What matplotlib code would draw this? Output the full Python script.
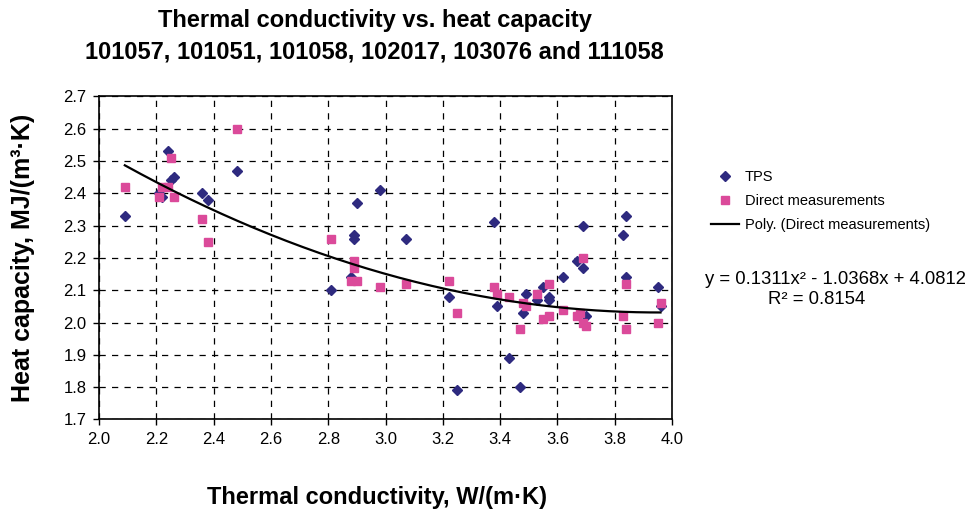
import numpy as np
import matplotlib
matplotlib.use("Agg")
import matplotlib.pyplot as plt
from matplotlib.ticker import FormatStrFormatter

plt.rcParams['font.family'] = ['Liberation Sans', 'DejaVu Sans']

# TPS measurements (thermal conductivity, heat capacity)
tps_k = [2.09, 2.24, 2.21, 2.22, 2.25, 2.26, 2.36, 2.38, 2.48, 2.81,
         2.88, 2.89, 2.89, 2.90, 2.98, 3.07, 3.22, 3.25, 3.38, 3.39,
         3.43, 3.47, 3.48, 3.49, 3.53, 3.55, 3.57, 3.57, 3.62, 3.67,
         3.69, 3.69, 3.70, 3.83, 3.84, 3.84, 3.95, 3.96]
tps_c = [2.33, 2.53, 2.40, 2.39, 2.44, 2.45, 2.40, 2.38, 2.47, 2.10,
         2.14, 2.27, 2.26, 2.37, 2.41, 2.26, 2.08, 1.79, 2.31, 2.05,
         1.89, 1.80, 2.03, 2.09, 2.07, 2.11, 2.08, 2.07, 2.14, 2.19,
         2.17, 2.30, 2.02, 2.27, 2.33, 2.14, 2.11, 2.05]

# direct measurements
dir_k = [2.09, 2.21, 2.22, 2.24, 2.25, 2.26, 2.36, 2.38, 2.48, 2.81,
         2.88, 2.90, 2.89, 2.89, 2.98, 3.07, 3.22, 3.25, 3.38, 3.39,
         3.43, 3.47, 3.48, 3.49, 3.53, 3.55, 3.57, 3.57, 3.62, 3.67,
         3.68, 3.69, 3.70, 3.69, 3.83, 3.84, 3.84, 3.95, 3.96]
dir_c = [2.42, 2.39, 2.42, 2.42, 2.51, 2.39, 2.32, 2.25, 2.60, 2.26,
         2.13, 2.13, 2.19, 2.17, 2.11, 2.12, 2.13, 2.03, 2.11, 2.09,
         2.08, 1.98, 2.06, 2.05, 2.09, 2.01, 2.02, 2.12, 2.04, 2.02,
         2.03, 2.00, 1.99, 2.20, 2.02, 2.12, 1.98, 2.00, 2.06]

# trendline coefficients as printed on the chart
poly_coef = [0.1311, -1.0368, 4.0812]
r_squared = 0.8154

fig = plt.figure(figsize=(9.68, 5.13), dpi=100)
ax = fig.add_axes([0.1023, 0.1823, 0.5919, 0.6296])

ax.plot(tps_k, tps_c, linestyle='none', marker='D', markersize=5.2,
        color='#2E2A7F', label='TPS', zorder=3)
ax.plot(dir_k, dir_c, linestyle='none', marker='s', markersize=5.2,
        color='#DB4A9A', label='Direct measurements', zorder=3)

xs = np.linspace(min(dir_k), max(dir_k), 200)
ax.plot(xs, np.polyval(poly_coef, xs), color='black', linewidth=1.6,
        label='Poly. (Direct measurements)', zorder=4)

ax.set_xlim(2.0, 4.0)
ax.set_ylim(1.7, 2.7)
ax.set_xticks(np.arange(2.0, 4.01, 0.2))
ax.set_yticks(np.arange(1.7, 2.71, 0.1))
ax.xaxis.set_major_formatter(FormatStrFormatter('%.1f'))
ax.yaxis.set_major_formatter(FormatStrFormatter('%.1f'))
ax.tick_params(labelsize=12, direction='out', length=4, width=1, pad=5)
ax.grid(True, color='black', linestyle=(0, (5, 5)), linewidth=0.9)
for s in ax.spines.values():
    s.set_linewidth(1.2)

fig.text(0.389, 0.031, 'Thermal conductivity, W/(m·K)', ha='center',
         va='center', fontsize=17, fontweight='bold')
fig.text(0.024, 0.497, 'Heat capacity, MJ/(m³·K)', ha='center', va='center',
         rotation=90, fontsize=18, fontweight='bold')

fig.text(0.387, 0.961, 'Thermal conductivity vs. heat capacity',
         ha='center', va='center', fontsize=17, fontweight='bold')
fig.text(0.387, 0.899, '101057, 101051, 101058, 102017, 103076 and 111058',
         ha='center', va='center', fontsize=17, fontweight='bold')

ax.legend(loc='upper left', bbox_to_anchor=(711 / 968, 1 - 170 / 513),
          bbox_transform=fig.transFigure, frameon=False, fontsize=10.5,
          handlelength=1.9, handletextpad=0.4, labelspacing=0.7,
          borderpad=0, borderaxespad=0)

fig.text(705 / 968, 1 - 279 / 513, 'y = 0.1311x² - 1.0368x + 4.0812',
         ha='left', va='center', fontsize=13.3)
fig.text(768 / 968, 1 - 299 / 513, 'R² = %.4f' % r_squared, ha='left',
         va='center', fontsize=13.3)

fig.savefig('out.png', dpi=100)
